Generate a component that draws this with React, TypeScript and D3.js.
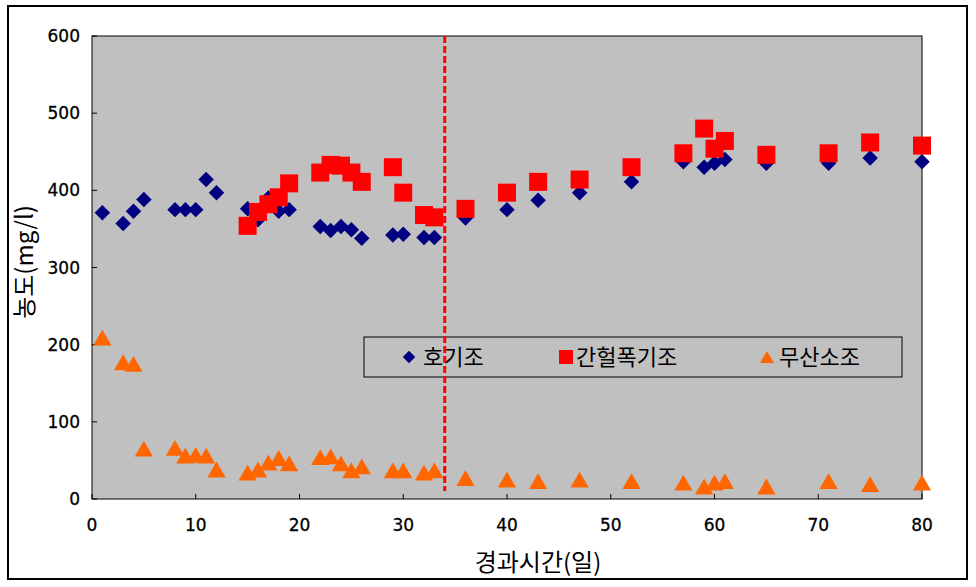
import React from 'react';
import * as d3 from 'd3';

// 경과시간(일) / 농도(mg/l)
const aerDays = [1, 3, 4, 5, 8, 9, 10, 11, 12, 15, 16, 17, 18, 19, 22, 23, 24, 25, 26, 29, 30, 32, 33, 36, 40, 43, 47, 52, 57, 59, 60, 61, 65, 71, 75, 80];
const aerValues = [371, 357, 373, 388, 375, 375, 375, 414, 397, 376, 362, 390, 373, 375, 353, 348, 353, 349, 338, 342, 343, 339, 339, 364, 375, 387, 397, 411, 437, 430, 435, 440, 435, 435, 442, 437];

const intDays = [15, 16, 17, 18, 19, 22, 23, 24, 25, 26, 29, 30, 32, 33, 36, 40, 43, 47, 52, 57, 59, 60, 61, 65, 71, 75, 80];
const intValues = [354, 372, 382, 391, 409, 423, 433, 432, 423, 411, 430, 397, 368, 365, 376, 397, 411, 414, 430, 448, 480, 454, 464, 446, 448, 462, 458];

const anoDays = [1, 3, 4, 5, 8, 9, 10, 11, 12, 15, 16, 17, 18, 19, 22, 23, 24, 25, 26, 29, 30, 32, 33, 36, 40, 43, 47, 52, 57, 59, 60, 61, 65, 71, 75, 80];
const anoValues = [209, 177, 175, 65, 66, 56, 57, 56, 38, 34, 38, 47, 53, 46, 54, 55, 46, 37, 42, 37, 37, 34, 37, 27, 25, 23, 25, 23, 21, 16, 21, 23, 16, 23, 19, 21];

const seriesNames = ['호기조', '간헐폭기조', '무산소조'];
const switchDay = 34;

const xTicks = [0, 10, 20, 30, 40, 50, 60, 70, 80];
const yTicks = [0, 100, 200, 300, 400, 500, 600];

const W = 976;
const H = 587;
const plot = { left: 92, top: 36, right: 922, bottom: 499 };

const x = d3.scaleLinear().domain([0, 80]).range([plot.left, plot.right]);
const y = d3.scaleLinear().domain([0, 600]).range([plot.bottom, plot.top]);

const diamond = d3.symbol().type(d3.symbolDiamond2).size(153)();
const square = d3.symbol().type(d3.symbolSquare).size(324)();
const triangle = d3.symbol().type(d3.symbolTriangle).size(145)();
const diamondSm = d3.symbol().type(d3.symbolDiamond2).size(100)();
const squareSm = d3.symbol().type(d3.symbolSquare).size(196)();
const triangleSm = d3.symbol().type(d3.symbolTriangle).size(85)();

const NAVY = '#000080';
const RED = '#FF0000';
const ORANGE = '#FF6600';

const numFont = '"DejaVu Sans", Arial, sans-serif';
const korFont = '"Noto Sans CJK KR", "DejaVu Sans", sans-serif';

export default function App() {
  const series = [
    { days: aerDays, values: aerValues, path: diamond, color: NAVY, dy: 0 },
    { days: intDays, values: intValues, path: square, color: RED, dy: 0 },
    { days: anoDays, values: anoValues, path: triangle, color: ORANGE, dy: 2.5 },
  ];
  const legendItems = [
    { name: seriesNames[0], path: diamondSm, color: NAVY, mx: 409, tx: 423, dy: 0 },
    { name: seriesNames[1], path: squareSm, color: RED, mx: 566, tx: 576, dy: 0 },
    { name: seriesNames[2], path: triangleSm, color: ORANGE, mx: 767, tx: 779, dy: 2 },
  ];
  return (
    <div style={{ position: 'absolute', left: 0, top: 0 }}>
      <svg width={W} height={H} style={{ display: 'block', background: '#fff' }}>
        <rect x={8} y={6} width={959} height={573} fill="#fff" stroke="#000" strokeWidth={2} />
        <rect
          x={plot.left}
          y={plot.top}
          width={plot.right - plot.left}
          height={plot.bottom - plot.top}
          fill="#C0C0C0"
          stroke="#000"
          strokeWidth={1}
        />
        {/* y axis */}
        {yTicks.map((t) => (
          <g key={'y' + t}>
            <line x1={plot.left} x2={plot.left + 5} y1={y(t)} y2={y(t)} stroke="#000" />
            <text x={plot.left - 12} y={y(t)} dy="0.36em" textAnchor="end" fontFamily={numFont} fontSize={17} stroke="#000" strokeWidth={0.3}>
              {t}
            </text>
          </g>
        ))}
        {/* x axis */}
        {xTicks.map((t) => (
          <g key={'x' + t}>
            <line x1={x(t)} x2={x(t)} y1={plot.bottom} y2={plot.bottom - 5} stroke="#000" />
            <text x={x(t)} y={plot.bottom + 26} dy="0.36em" textAnchor="middle" fontFamily={numFont} fontSize={17} stroke="#000" strokeWidth={0.3}>
              {t}
            </text>
          </g>
        ))}
        {/* legend */}
        <rect x={364} y={337} width={538} height={40} fill="none" stroke="#000" strokeWidth={1} />
        {legendItems.map((l) => (
          <g key={l.name}>
            <path d={l.path} fill={l.color} transform={`translate(${l.mx},${357 + l.dy})`} />
            <text x={l.tx} y={357} dy="0.36em" fontFamily={korFont} fontSize={22}>
              {l.name}
            </text>
          </g>
        ))}
        {/* points */}
        {series.map((s, si) => (
          <g key={si}>
            {s.days.map((d, i) => (
              <path key={i} d={s.path} fill={s.color} transform={`translate(${x(d)},${y(s.values[i]) + s.dy})`} />
            ))}
          </g>
        ))}
        {/* switch line */}
        <line
          x1={x(switchDay)}
          x2={x(switchDay)}
          y1={plot.top}
          y2={plot.bottom - 8}
          stroke={RED}
          strokeWidth={3}
          strokeDasharray="7 3"
        />
        {/* axis titles */}
        <text x={538} y={562} dy="0.36em" textAnchor="middle" fontFamily={korFont} fontSize={24}>
          경과시간(일)
        </text>
        <text
          transform={`translate(24,262) rotate(-90)`}
          dy="0.36em"
          textAnchor="middle"
          fontFamily={korFont}
          fontSize={24}
        >
          농도(mg/l)
        </text>
      </svg>
    </div>
  );
}
